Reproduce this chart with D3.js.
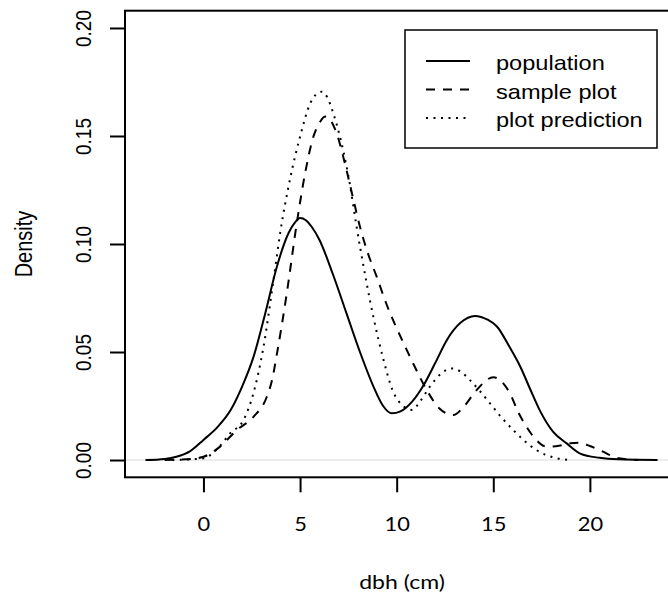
<!DOCTYPE html>
<html>
<head>
<meta charset="UTF-8">
<script src="https://cdn.jsdelivr.net/npm/d3@7"></script>
<style>
body{
    margin:0;
    background-color:white;
}
svg{
    display:block;
}
</style>
</head>
<body>
<script>

// dbh (cm) positions, with the density at each one
var popX = [-3, -2, -1.4, -0.7, 0, 0.7, 1.4, 2.0, 2.6, 3.2, 3.8, 4.4, 4.7, 5.0, 5.3, 5.6, 6.0, 6.7, 7.4, 8.1, 8.8, 9.3, 9.75, 10.2, 10.8, 11.4, 12.0, 12.6, 13.3, 14.05, 14.7, 15.2, 15.8, 16.4, 16.9, 17.4, 18.1, 18.8, 19.5, 20.5, 21.5, 23.5];
var popY = [0, 0.0005, 0.0015, 0.004, 0.0093, 0.015, 0.023, 0.034, 0.048, 0.068, 0.0895, 0.105, 0.1095, 0.112, 0.111, 0.108, 0.102, 0.086, 0.068, 0.050, 0.034, 0.025, 0.0216, 0.0225, 0.027, 0.0347, 0.045, 0.0556, 0.0635, 0.0667, 0.065, 0.0617, 0.053, 0.0432, 0.033, 0.0231, 0.013, 0.0077, 0.003, 0.001, 0.0003, 0];

var sampX = [-2, -0.9, 0, 0.86, 1.73, 2.59, 3.28, 3.55, 3.8, 4.31, 4.83, 5.26, 5.69, 6.0, 6.3, 6.6, 6.9, 7.41, 7.75, 8.1, 8.5, 8.96, 9.48, 10.0, 10.52, 11.0, 11.55, 12.2, 12.93, 13.5, 14.14, 15.0, 15.86, 16.3, 16.72, 17.2, 17.76, 18.4, 19.0, 19.4, 20.0, 20.5, 21.5, 22.5];
var sampY = [0, 0.0003, 0.0015, 0.0062, 0.0139, 0.020, 0.0293, 0.037, 0.049, 0.077, 0.1096, 0.1327, 0.1497, 0.156, 0.159, 0.157, 0.151, 0.134, 0.121, 0.108, 0.096, 0.085, 0.072, 0.061, 0.051, 0.042, 0.0325, 0.024, 0.0208, 0.025, 0.0324, 0.0383, 0.0309, 0.022, 0.0154, 0.0095, 0.0062, 0.0066, 0.0078, 0.008, 0.0065, 0.0046, 0.0008, 0];

var predX = [-2, -1, 0, 0.7, 1.38, 2.07, 2.59, 3.1, 3.62, 3.97, 4.48, 5.0, 5.52, 5.8, 6.12, 6.4, 6.72, 7.41, 8.1, 8.8, 9.3, 9.8, 10.34, 10.8, 11.2, 11.72, 12.3, 12.84, 13.3, 13.79, 14.3, 14.83, 15.4, 16.03, 16.6, 17.24, 18.2, 19.0];
var predY = [0, 0.0002, 0.0008, 0.005, 0.0123, 0.0185, 0.031, 0.052, 0.083, 0.105, 0.130, 0.1497, 0.165, 0.169, 0.1705, 0.168, 0.1605, 0.1358, 0.0988, 0.066, 0.047, 0.032, 0.025, 0.0232, 0.027, 0.034, 0.040, 0.0424, 0.041, 0.037, 0.032, 0.0262, 0.020, 0.0139, 0.009, 0.0046, 0.001, 0];

var xTicks = [0, 5, 10, 15, 20];
var yTicks = [0, 0.05, 0.10, 0.15, 0.20];
var legendLabels = ["population", "sample plot", "plot prediction"];
var dashes = ["none", "9,8", "2,5.5"];

var width = 668,
    height = 594,
    sx = 1.15; // the picture is a bit wider than tall

var x = d3.scaleLinear().domain([-4.06, 24.56]).range([125, 678]);
var y = d3.scaleLinear().domain([-0.008, 0.208]).range([477.3, 10.7]);

var svg = d3.select("body").append("svg")
    .attr("width",width)
    .attr("height",height);

svg.append("rect")
    .attr("width",width)
    .attr("height",height)
    .attr("fill","white");

// zero line
svg.append("line")
    .attr("x1",x.range()[0])
    .attr("x2",x.range()[1])
    .attr("y1",y(0))
    .attr("y2",y(0))
    .attr("stroke","#d9d9d9")
    .attr("stroke-width",1);

var line = d3.line()
    .x(function(d){ return x(d[0]); })
    .y(function(d){ return y(d[1]); })
    .curve(d3.curveMonotoneX);

var series = [d3.zip(popX,popY), d3.zip(sampX,sampY), d3.zip(predX,predY)];

svg.selectAll(".curve")
    .data(series)
    .enter().append("path")
    .attr("class","curve")
    .attr("d",line)
    .attr("fill","none")
    .attr("stroke","black")
    .attr("stroke-width",2)
    .attr("stroke-dasharray",function(d,i){ return dashes[i]; });

// plot box
svg.append("rect")
    .attr("x",x.range()[0])
    .attr("y",y.range()[1])
    .attr("width",x.range()[1]-x.range()[0])
    .attr("height",y.range()[0]-y.range()[1])
    .attr("fill","none")
    .attr("stroke","black")
    .attr("stroke-width",2);

var gX = svg.append("g")
    .attr("transform","translate(0,"+y.range()[0]+")")
    .call(d3.axisBottom(x).tickValues(xTicks).tickSize(15).tickPadding(25));
gX.select(".domain").remove();
gX.selectAll("line").attr("stroke-width",2);
gX.selectAll("text")
    .attr("font-family","Lato, sans-serif")
    .attr("font-size",19)
    .attr("fill","black")
    .attr("transform","scale("+sx+",1)");

var gY = svg.append("g")
    .attr("transform","translate("+x.range()[0]+",0)")
    .call(d3.axisLeft(y).tickValues(yTicks).tickSize(15).tickFormat(d3.format(".2f")));
gY.select(".domain").remove();
gY.selectAll("line").attr("stroke-width",2);
gY.selectAll("text")
    .attr("x",0)
    .attr("y",0)
    .attr("dy",0)
    .attr("text-anchor","middle")
    .attr("font-family","Liberation Sans, Arial, sans-serif")
    .attr("font-size",19)
    .attr("fill","black")
    .attr("transform","translate(-34,0) rotate(-90) scale(1,"+sx+")");

svg.append("text")
    .attr("transform","translate(32,244) rotate(-90) scale(1,"+sx+")")
    .attr("text-anchor","middle")
    .attr("font-family","Liberation Sans, Arial, sans-serif")
    .attr("font-size",20)
    .text("Density");

svg.append("text")
    .attr("transform","translate(402,589) scale("+sx+",1)")
    .attr("text-anchor","middle")
    .attr("font-family","Lato, sans-serif")
    .attr("font-size",20)
    .text("dbh (cm)");

// legend
var legend = svg.append("g");
legend.append("rect")
    .attr("x",405)
    .attr("y",30)
    .attr("width",252)
    .attr("height",118)
    .attr("fill","white")
    .attr("stroke","black")
    .attr("stroke-width",1.5);

var items = legend.selectAll(".item")
    .data(legendLabels)
    .enter().append("g")
    .attr("transform",function(d,i){ return "translate(0,"+(61+i*28.5)+")"; });

items.append("line")
    .attr("x1",426)
    .attr("x2",470)
    .attr("stroke","black")
    .attr("stroke-width",2)
    .attr("stroke-dasharray",function(d,i){ return dashes[i]; });

items.append("text")
    .attr("transform","translate(496,9) scale("+sx+",1)")
    .attr("font-family","Liberation Sans, Arial, sans-serif")
    .attr("font-size",20.5)
    .text(function(d){ return d; });

</script>
</body>
</html>
